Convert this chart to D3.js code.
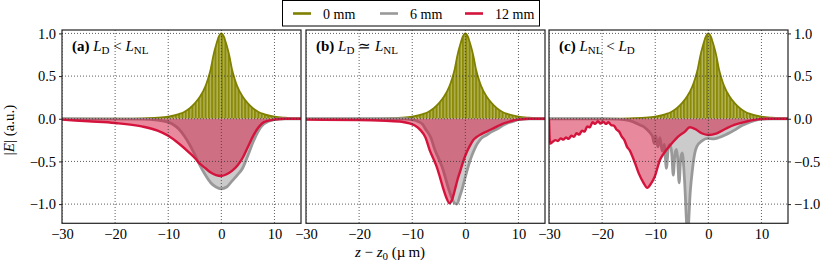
<!DOCTYPE html>
<html>
<head>
<meta charset="utf-8">
<script src="https://cdn.jsdelivr.net/npm/d3@7"></script>
<style>
  body { margin: 0; background: #fff; }
  svg text { font-family: "Times New Roman", "Liberation Serif", Times, serif; fill: #000; }
</style>
</head>
<body>
<div id="chart"></div>
<script>
// 0 mm envelope (same input pulse in every panel)
const zEnv = [-30, -20, -15, -12, -10, -8, -7, -6, -5, -4, -3, -2.5, -2, -1.5, -1, -0.5, 0, 0.5, 1, 1.5, 2, 2.5, 3, 4, 5, 6, 7, 8, 10, 12, 15];
const ampEnv = [0, 0.002, 0.005, 0.012, 0.025, 0.055, 0.08, 0.12, 0.18, 0.26, 0.38, 0.47, 0.58, 0.74, 0.86, 0.96, 1, 0.96, 0.86, 0.74, 0.58, 0.47, 0.38, 0.26, 0.18, 0.12, 0.08, 0.055, 0.025, 0.012, 0.004];

// panel (a) 6 mm and 12 mm
const zA6 = [-30, -15, -12, -10, -9, -8, -7, -6, -5, -4, -3, -2, -1, 0, 1, 2, 3, 4, 5, 6, 7, 8, 10, 12, 15];
const vA6 = [0, -0.005, -0.015, -0.04, -0.07, -0.12, -0.2, -0.3, -0.42, -0.55, -0.66, -0.75, -0.8, -0.82, -0.8, -0.73, -0.66, -0.58, -0.43, -0.27, -0.14, -0.06, -0.01, 0, 0];
const zA12 = [-30, -25, -20, -15, -12, -10, -8, -6, -5, -4, -3, -2, -1, 0, 1, 2, 3, 4, 5, 6, 7, 8, 10, 12, 15];
const vA12 = [-0.01, -0.03, -0.05, -0.09, -0.14, -0.2, -0.29, -0.4, -0.46, -0.53, -0.58, -0.63, -0.66, -0.67, -0.65, -0.61, -0.55, -0.46, -0.33, -0.2, -0.1, -0.04, -0.01, 0, 0];

// panel (b)
const zB6 = [-30, -12, -10, -9, -8, -7.5, -6.5, -5.7, -5, -4.4, -3.8, -3.2, -2.6, -2, -1.6, -1, -0.5, 0, 0.5, 1, 1.5, 2, 2.5, 3, 4, 5, 6, 7, 8, 9, 10, 12, 15];
const vB6 = [0, 0, -0.01, -0.03, -0.07, -0.12, -0.22, -0.37, -0.47, -0.56, -0.68, -0.81, -0.92, -0.99, -1.0, -0.9, -0.8, -0.68, -0.57, -0.47, -0.39, -0.32, -0.27, -0.23, -0.19, -0.15, -0.12, -0.08, -0.05, -0.03, -0.01, 0, 0];
const zB12 = [-30, -20, -15, -12, -10.5, -9.5, -8.5, -7.5, -6.7, -6, -5.4, -4.8, -4.2, -3.6, -3, -2.5, -2, -1.5, -1, -0.5, 0, 0.5, 1, 1.5, 2, 3, 4, 5, 6, 7, 8, 9, 10, 12, 15];
const vB12 = [-0.01, -0.015, -0.025, -0.035, -0.055, -0.08, -0.13, -0.22, -0.37, -0.47, -0.56, -0.68, -0.81, -0.92, -0.99, -0.95, -0.84, -0.72, -0.62, -0.52, -0.43, -0.36, -0.3, -0.25, -0.22, -0.18, -0.15, -0.12, -0.09, -0.06, -0.04, -0.02, -0.01, 0, 0];

// panel (c)
const zC6 = [-30, -20, -17, -15, -14, -13, -12, -11.3, -10.9, -10.5, -10.2, -9.9, -9.5, -9.1, -8.7, -8.3, -7.9, -7.5, -7.2, -6.9, -6.6, -6.3, -6.0, -5.8, -5.5, -5.2, -4.9, -4.5, -3.9, -3.4, -3.0, -2.6, -2.2, -1.2, -0.2, 1, 2, 3.5, 5, 6, 7, 8.5, 10, 12, 15];
const vC6 = [0, 0, -0.005, -0.02, -0.04, -0.07, -0.1, -0.14, -0.17, -0.21, -0.29, -0.2, -0.33, -0.22, -0.38, -0.3, -0.58, -0.33, -0.3, -0.4, -0.66, -0.42, -0.36, -0.45, -0.75, -0.46, -0.4, -0.7, -1.35, -0.85, -0.6, -0.42, -0.33, -0.26, -0.23, -0.235, -0.22, -0.18, -0.13, -0.09, -0.06, -0.025, -0.005, 0, 0];
const zC12 = [-30, -29.8, -29.3, -28.8, -28.3, -27.8, -27.3, -26.8, -26.3, -25.8, -25.3, -24.8, -24.3, -23.8, -23.3, -22.8, -22.3, -21.8, -21.3, -20.8, -20.3, -19.8, -19.3, -18.8, -18.3, -17.8, -17.3, -16.8, -16.3, -15.8, -15.3, -14.8, -14.3, -13.8, -13.1, -12.2, -11.5, -10.8, -10.1, -9.1, -8.2, -6.9, -5.7, -4.4, -3.5, -2.5, -1.25, 0, 1.6, 3.5, 5, 7, 9, 11, 15];
const vC12 = [-0.01, -0.29, -0.27, -0.25, -0.26, -0.23, -0.245, -0.22, -0.235, -0.2, -0.21, -0.17, -0.185, -0.14, -0.15, -0.09, -0.1, -0.04, -0.06, -0.03, -0.055, -0.035, -0.06, -0.04, -0.075, -0.08, -0.125, -0.15, -0.21, -0.25, -0.33, -0.37, -0.44, -0.52, -0.64, -0.75, -0.81, -0.76, -0.68, -0.48, -0.39, -0.29, -0.21, -0.15, -0.1, -0.12, -0.17, -0.19, -0.17, -0.11, -0.07, -0.035, -0.01, 0, 0];

const panelNames = ["(a)", "(b)", "(c)"];
const xTicks = [-30, -20, -10, 0, 10];
const yTicks = [-1, -0.5, 0, 0.5, 1];
const legendLabels = ["0 mm", "6 mm", "12 mm"];

let attrs = {
  width: 830,
  height: 264,
  panelLeft: [62, 306, 549],
  panelWidth: 239,
  top: 30,
  bottom: 223.3,
  olive: "#808000",
  gray: "#999999",
  red: "#d4143c",
  grayFill: "#cbcbcb",
  fontSize: 14.5,
  font: '"Times New Roman", "Liberation Serif", serif',
};

let svg = d3
  .select("#chart")
  .append("svg")
  .attr("width", attrs.width)
  .attr("height", attrs.height);

let defs = svg.append("defs");

// carrier stripes under the 0 mm envelope
let stripes = defs
  .append("pattern")
  .attr("id", "carrier")
  .attr("patternUnits", "userSpaceOnUse")
  .attr("width", 3.3)
  .attr("height", 10);
stripes.append("rect").attr("width", 3.3).attr("height", 10).attr("fill", "#8a8a08");
stripes.append("rect").attr("x", 2.1).attr("width", 1).attr("height", 10).attr("fill", "#c4c47a");

let y = d3.scaleLinear().domain([-1.225, 1.04]).range([attrs.bottom, attrs.top]);

const toPts = (zs, vs) => zs.map((z, i) => [z, vs[i]]);
let panels = [
  { g6: toPts(zA6, vA6), g12: toPts(zA12, vA12) },
  { g6: toPts(zB6, vB6), g12: toPts(zB12, vB12) },
  { g6: toPts(zC6, vC6), g12: toPts(zC12, vC12) },
];
let env = toPts(zEnv, ampEnv);

panels.forEach((p, i) => {
  let x = d3
    .scaleLinear()
    .domain([-30, 15])
    .range([attrs.panelLeft[i], attrs.panelLeft[i] + attrs.panelWidth]);

  defs
    .append("clipPath")
    .attr("id", "clip" + i)
    .append("rect")
    .attr("x", attrs.panelLeft[i])
    .attr("y", attrs.top)
    .attr("width", attrs.panelWidth)
    .attr("height", attrs.bottom - attrs.top);

  let area = d3.area().curve(d3.curveMonotoneX).x((d) => x(d[0])).y0(y(0)).y1((d) => y(d[1]));
  let line = d3.line().curve(d3.curveMonotoneX).x((d) => x(d[0])).y((d) => y(d[1]));

  let g = svg.append("g").attr("clip-path", "url(#clip" + i + ")");

  // 0 mm
  g.append("path").attr("d", area(env)).attr("fill", "url(#carrier)");
  g.append("path").attr("d", line(env)).attr("fill", "none").attr("stroke", attrs.olive).attr("stroke-width", 1.8);

  // 6 mm
  g.append("path").attr("d", area(p.g6)).attr("fill", attrs.grayFill);
  g.append("path").attr("d", line(p.g6)).attr("fill", "none").attr("stroke", attrs.gray).attr("stroke-width", 2.8).attr("stroke-linejoin", "round");

  // 12 mm
  g.append("path").attr("d", area(p.g12)).attr("fill", attrs.red).attr("opacity", 0.5);
  g.append("path").attr("d", line(p.g12)).attr("fill", "none").attr("stroke", attrs.red).attr("stroke-width", 2.4).attr("stroke-linejoin", "round");

  // dotted grid on top
  g.selectAll(".vgrid")
    .data(xTicks)
    .enter()
    .append("line")
    .attr("x1", (d) => x(d))
    .attr("x2", (d) => x(d))
    .attr("y1", attrs.top)
    .attr("y2", attrs.bottom)
    .attr("stroke", "#333")
    .attr("stroke-width", 0.8)
    .attr("stroke-dasharray", "1,2");
  g.selectAll(".hgrid")
    .data(yTicks)
    .enter()
    .append("line")
    .attr("x1", attrs.panelLeft[i])
    .attr("x2", attrs.panelLeft[i] + attrs.panelWidth)
    .attr("y1", (d) => y(d))
    .attr("y2", (d) => y(d))
    .attr("stroke", "#333")
    .attr("stroke-width", 0.8)
    .attr("stroke-dasharray", "1,2");

  // frame
  svg
    .append("rect")
    .attr("x", attrs.panelLeft[i])
    .attr("y", attrs.top)
    .attr("width", attrs.panelWidth)
    .attr("height", attrs.bottom - attrs.top)
    .attr("fill", "none")
    .attr("stroke", "#222")
    .attr("stroke-width", 1.2);

  // x axis labels
  let xAxis = d3.axisBottom(x).tickValues(xTicks).tickSize(0).tickPadding(5).tickFormat(d3.format("d"));
  let ax = svg.append("g").attr("font-family", attrs.font).attr("transform", "translate(0," + attrs.bottom + ")").call(xAxis);
  ax.select(".domain").remove();
  ax.selectAll("text").attr("font-size", attrs.fontSize);

  // y axis on panels a and c
  if (i !== 1) {
    let yAxis = (i === 0 ? d3.axisLeft(y) : d3.axisRight(y))
      .tickValues(yTicks)
      .tickSize(3)
      .tickPadding(3)
      .tickFormat(d3.format(".1f"));
    let ay = svg
      .append("g")
      .attr("transform", "translate(" + (i === 0 ? attrs.panelLeft[i] : attrs.panelLeft[i] + attrs.panelWidth) + ",0)")
      .call(yAxis)
      .attr("font-family", attrs.font);
    ay.select(".domain").remove();
    ay.selectAll("line").attr("stroke", "#222");
    ay.selectAll("text").attr("font-size", attrs.fontSize);
  }

  // panel label
  let lab = svg
    .append("text")
    .attr("x", attrs.panelLeft[i] + 10)
    .attr("y", 51)
    .attr("font-size", 15);
  lab.append("tspan").attr("font-weight", "bold").text(panelNames[i] + " ");
  let sub = (t) => lab.append("tspan").attr("dy", 3).attr("font-size", 11).text(t);
  let base = (t) => lab.append("tspan").attr("dy", -3).text(t);
  if (i === 0) {
    lab.append("tspan").attr("font-style", "italic").text("L");
    sub("D");
    base(" < ").append("tspan").attr("font-style", "italic").text("L");
    sub("NL");
  } else if (i === 1) {
    lab.append("tspan").attr("font-style", "italic").text("L");
    sub("D");
    base(" \u2243 ").append("tspan").attr("font-style", "italic").text("L");
    sub("NL");
  } else {
    lab.append("tspan").attr("font-style", "italic").text("L");
    sub("NL");
    base(" < ").append("tspan").attr("font-style", "italic").text("L");
    sub("D");
  }
});

// y label
let yl = svg
  .append("text")
  .attr("transform", "translate(14,130) rotate(-90)")
  .attr("text-anchor", "middle")
  .attr("font-size", 15);
yl.append("tspan").text("|");
yl.append("tspan").attr("font-style", "italic").text("E");
yl.append("tspan").text("| (a.u.)");

// x label
let xl = svg.append("text").attr("x", 390).attr("y", 257).attr("text-anchor", "middle").attr("font-size", 15);
xl.append("tspan").attr("font-style", "italic").text("z");
xl.append("tspan").text(" \u2212 ");
xl.append("tspan").attr("font-style", "italic").text("z");
xl.append("tspan").attr("dy", 3).attr("font-size", 11).text("0");
xl.append("tspan").attr("dy", -3).text(" (\u00b5\u2009m)");

// legend
let legendColors = [attrs.olive, attrs.gray, attrs.red];
let legendX = [293, 380, 465];
let legend = svg.append("g");
legend
  .append("rect")
  .attr("x", 282.5)
  .attr("y", 0.5)
  .attr("width", 257)
  .attr("height", 25.5)
  .attr("fill", "#fff")
  .attr("stroke", "#000")
  .attr("stroke-width", 1);
legendLabels.forEach((t, k) => {
  legend
    .append("line")
    .attr("x1", legendX[k])
    .attr("x2", legendX[k] + 18)
    .attr("y1", 13.5)
    .attr("y2", 13.5)
    .attr("stroke", legendColors[k])
    .attr("stroke-width", 2.6);
  legend
    .append("text")
    .attr("x", legendX[k] + 30)
    .attr("y", 18.5)
    .attr("font-size", 14)
    .text(t);
});
</script>
</body>
</html>
